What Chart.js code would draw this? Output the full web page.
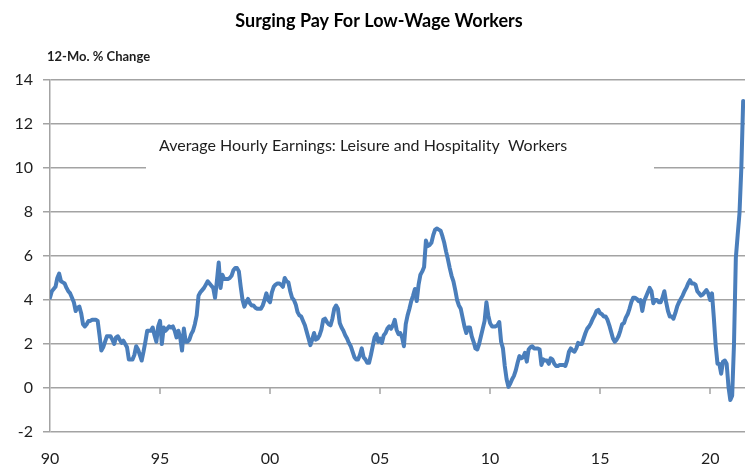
<!DOCTYPE html>
<html>
<head>
<meta charset="utf-8">
<script src="https://cdn.jsdelivr.net/npm/chart.js@4.4.0/dist/chart.umd.min.js"></script>
<style>
  html, body { margin: 0; padding: 0; background: #fff; }
  #wrap { width: 748px; height: 464px; }
</style>
</head>
<body>
<div id="wrap"><canvas id="chart" width="748" height="464"></canvas></div>
<script>
// Monthly 12-mo. % change (Jan of each decade first)
const startYear = 1990;
const pct1990s = [
    4.1, 4.4, 4.5, 4.6, 5.0, 5.2, 4.85, 4.8, 4.75, 4.55, 4.4, 4.3,
    4.1, 3.9, 3.5, 3.65, 3.7, 3.4, 2.9, 2.8, 2.9, 3.05, 3.05, 3.1,
    3.1, 3.1, 3.05, 2.4, 1.7, 1.85, 2.1, 2.35, 2.35, 2.35, 2.2, 2.0,
    2.3, 2.35, 2.2, 2.05, 2.15, 2.0, 1.85, 1.3, 1.3, 1.3, 1.5, 1.9,
    1.75, 1.5, 1.25, 1.65, 2.1, 2.6, 2.6, 2.6, 2.75, 2.4, 2.1, 2.8,
    3.05, 2.0, 2.75, 2.6, 2.7, 2.8, 2.75, 2.8, 2.6, 2.3, 2.6, 2.3,
    1.7, 2.7, 2.1, 2.1, 2.2, 2.45, 2.6, 2.9, 3.3, 4.2, 4.35, 4.45,
    4.55, 4.7, 4.85, 4.75, 4.65, 4.55, 4.1, 4.85, 5.7, 4.55, 5.15, 4.95,
    4.95, 4.95, 5.0, 5.1, 5.35, 5.45, 5.45, 5.3, 4.6, 4.0, 3.7, 3.9,
    4.05, 3.85, 3.75, 3.75, 3.65, 3.6, 3.6, 3.6, 3.75, 4.0, 4.3, 4.0
];
const pct2000s = [
    3.9, 4.35, 4.6, 4.7, 4.75, 4.75, 4.7, 4.6, 5.0, 4.85, 4.8, 4.4,
    4.1, 4.0, 3.8, 3.45, 3.3, 3.25, 3.05, 2.85, 2.55, 2.25, 1.95, 2.2,
    2.5, 2.2, 2.25, 2.4, 2.65, 3.1, 3.15, 3.0, 2.9, 2.85, 3.15, 3.6,
    3.75, 3.6, 2.95, 2.75, 2.6, 2.4, 2.25, 2.05, 1.9, 1.65, 1.4, 1.3,
    1.3, 1.5, 1.8, 1.4, 1.3, 1.15, 1.15, 1.5, 1.9, 2.3, 2.45, 2.1,
    2.25, 2.05, 2.4, 2.5, 2.7, 2.8, 2.7, 2.85, 3.1, 2.65, 2.45, 2.5,
    2.3, 1.9, 2.9, 3.3, 3.6, 3.95, 4.2, 4.5, 3.95, 4.7, 5.15, 5.3,
    5.5, 6.7, 6.45, 6.5, 6.6, 6.95, 7.2, 7.25, 7.2, 7.15, 6.9, 6.6,
    6.2, 5.85, 5.45, 5.1, 4.85, 4.45, 4.0, 3.75, 3.6, 3.2, 2.8, 2.5,
    2.75, 2.75, 2.35, 2.1, 1.8, 1.75, 2.0, 2.35, 2.7, 3.05, 3.9, 3.3
];
const pct2010s = [
    2.95, 2.8, 2.8, 2.8, 2.85, 3.0, 2.1, 1.8, 1.0, 0.4, 0.05, 0.2,
    0.4, 0.55, 0.8, 1.15, 1.45, 1.35, 1.4, 1.6, 1.2, 1.75, 1.85, 1.9,
    1.8, 1.8, 1.8, 1.75, 1.05, 1.3, 1.25, 1.25, 1.1, 1.35, 1.3, 1.1,
    1.0, 1.0, 1.05, 1.05, 1.05, 1.0, 1.25, 1.65, 1.8, 1.7, 1.65, 1.8,
    2.05, 2.0, 2.0, 2.25, 2.5, 2.7, 2.8, 2.95, 3.15, 3.3, 3.5, 3.55,
    3.4, 3.35, 3.25, 3.25, 3.1, 2.85, 2.55, 2.25, 2.1, 2.2, 2.35, 2.6,
    2.9, 2.95, 3.2, 3.35, 3.6, 3.9, 4.1, 4.1, 4.05, 3.95, 4.0, 3.5,
    3.95, 4.15, 4.35, 4.55, 4.4, 3.85, 4.0, 4.0, 3.9, 3.9, 4.1, 4.4,
    3.9, 3.5, 3.25, 3.25, 3.15, 3.4, 3.7, 3.9, 4.05, 4.2, 4.4, 4.55,
    4.75, 4.9, 4.75, 4.75, 4.7, 4.4, 4.3, 4.2, 4.25, 4.35, 4.45, 4.3
];
const pct2020s = [
    4.0, 4.3, 3.2, 1.95, 1.1, 1.1, 0.65, 1.2, 1.25, 1.1, 0.05, -0.55,
    -0.35, 2.0, 5.9, 6.95, 7.95, 10.0, 13.05
];

const tickYears = [1990, 1995, 2000, 2005, 2010, 2015, 2020];
const tickLabels = ['90', '95', '00', '05', '10', '15', '20'];
const yTicks = [-2, 0, 2, 4, 6, 8, 10, 12, 14];

const titleText = 'Surging Pay For Low-Wage Workers';
const unitText = '12-Mo. % Change';
const noteText = 'Average Hourly Earnings: Leisure and Hospitality  Workers';

const lineColor = '#4a7ebb';
const gridColor = '#a3a3a3';
const textColor = '#1e1e1e';
const fontFamily = 'Lato, "Open Sans", sans-serif';

// x = months since Jan 1990
const values = pct1990s.concat(pct2000s, pct2010s, pct2020s);
const points = values.map((v, i) => ({ x: i, y: v }));

const decor = {
    id: 'decor',
    beforeDatasetsDraw(chart) {
        const ctx = chart.ctx;
        const xs = chart.scales.x;
        const ys = chart.scales.y;
        ctx.save();
        // white label box breaking the 10 gridline
        ctx.fillStyle = '#fff';
        ctx.fillRect(146, 129, 508, 48);
        ctx.fillStyle = textColor;
        ctx.font = '16px ' + fontFamily;
        ctx.textBaseline = 'middle';
        ctx.textAlign = 'left';
        ctx.fillText(noteText, 159, 146);

        // small tick marks hanging from the zero line
        const y0 = Math.round(ys.getPixelForValue(0));
        ctx.strokeStyle = gridColor;
        ctx.lineWidth = 1.5;
        tickYears.forEach(yr => {
            if (yr === startYear) return;
            const px = Math.round(xs.getPixelForValue((yr - startYear) * 12));
            ctx.beginPath();
            ctx.moveTo(px, y0);
            ctx.lineTo(px, y0 + 6);
            ctx.stroke();
        });
        ctx.restore();
    },
    afterDraw(chart) {
        const ctx = chart.ctx;
        ctx.save();
        ctx.fillStyle = '#000';
        ctx.textBaseline = 'middle';
        ctx.textAlign = 'center';
        ctx.font = 'bold 18px ' + fontFamily;
        ctx.fillText(titleText, 379, 21);
        ctx.textAlign = 'left';
        ctx.font = 'bold 13px ' + fontFamily;
        ctx.fillStyle = textColor;
        ctx.fillText(unitText, 47, 57);
        ctx.restore();
    }
};

new Chart(document.getElementById('chart'), {
    type: 'line',
    data: {
        datasets: [{
            data: points,
            borderColor: lineColor,
            borderWidth: 4,
            borderJoinStyle: 'round',
            borderCapStyle: 'round',
            pointRadius: 0,
            tension: 0,
            fill: false
        }]
    },
    options: {
        responsive: false,
        animation: false,
        events: [],
        layout: { padding: { top: 80, right: 3, left: 0, bottom: 0 } },
        plugins: {
            legend: { display: false },
            tooltip: { enabled: false },
            title: { display: false }
        },
        scales: {
            x: {
                type: 'linear',
                min: 0,
                max: 379,
                afterBuildTicks: scale => {
                    scale.ticks = tickYears.map(yr => ({ value: (yr - startYear) * 12 }));
                },
                afterFit: scale => { scale.height = 32; },
                grid: { display: false },
                border: { display: false },
                ticks: {
                    padding: 9,
                    maxRotation: 0,
                    autoSkip: false,
                    color: textColor,
                    font: { family: fontFamily, size: 16 },
                    callback: (value) => {
                        const idx = tickYears.indexOf(startYear + value / 12);
                        return idx >= 0 ? tickLabels[idx] : '';
                    }
                }
            },
            y: {
                min: -2,
                max: 14,
                afterBuildTicks: scale => {
                    scale.ticks = yTicks.map(v => ({ value: v }));
                },
                afterFit: scale => { scale.width = 50; },
                grid: {
                    color: gridColor,
                    lineWidth: 1.5,
                    tickLength: 7,
                    drawTicks: true
                },
                border: { display: true, color: gridColor, width: 1.5 },
                ticks: {
                    padding: 10,
                    color: textColor,
                    font: { family: fontFamily, size: 16 }
                }
            }
        }
    },
    plugins: [decor]
});
</script>
</body>
</html>
